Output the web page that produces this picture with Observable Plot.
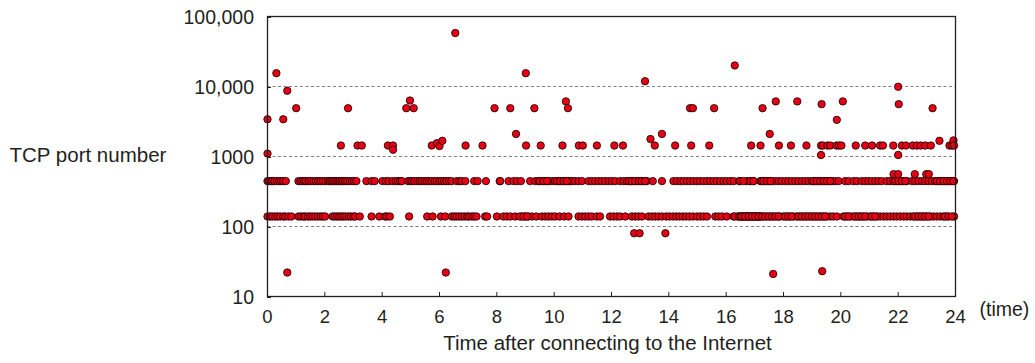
<!DOCTYPE html>
<html><head><meta charset="utf-8">
<script src="https://cdn.jsdelivr.net/npm/d3@7"></script>
<script src="https://cdn.jsdelivr.net/npm/@observablehq/plot@0.6"></script>
<style>
body{margin:0;background:#fff}
svg{font-family:"Liberation Sans",Arial,Helvetica,sans-serif}
</style>
</head><body><div id="chart"></div>
<script>
// Tick values and labels
const xTicks = [0,2,4,6,8,10,12,14,16,18,20,22,24];
const xTickLabels = ["0","2","4","6","8","10","12","14","16","18","20","22","24"];
const yTicks = [10,100,1000,10000,100000];
const yTickLabels = ["10","100","1000","10,000","100,000"];
const gridValues = [100,1000,10000];

// Port 445 band (hours)
const hours445 = [
0.0,0.06,0.12,0.17,0.24,0.33,0.41,0.48,0.55,0.64,
1.08,1.15,1.22,1.28,1.34,1.43,1.51,1.60,1.69,1.77,1.85,1.94,2.03,2.12,2.17,2.23,2.29,2.35,2.41,2.47,2.52,2.58,2.64,2.71,2.78,2.87,2.95,3.02,3.10,
3.45,3.63,3.74,
4.01,4.13,4.22,4.36,4.47,4.55,4.63,4.69,
4.90,4.98,5.04,5.12,5.22,5.31,5.38,5.47,5.56,5.64,5.73,5.83,5.91,6.0,6.08,6.16,6.24,6.33,6.42,
6.60,6.69,6.77,6.90,7.21,7.33,7.62,8.10,
8.12,8.41,8.58,8.70,8.84,9.16,9.34,9.45,9.57,9.69,9.80,9.92,10.03,10.15,10.27,10.38,10.50,10.56,10.62,10.73,10.85,10.97,
11.20,11.31,11.43,11.55,11.66,11.78,11.90,12.01,12.13,12.30,12.42,12.53,12.65,12.77,12.88,13.0,13.12,13.23,13.44,13.76,
14.16,14.28,14.40,14.51,14.63,14.74,14.86,14.98,15.09,15.21,15.33,15.44,15.56,15.67,15.79,15.91,16.02,16.14,16.26,16.45,16.72,16.84,16.95,17.19,
9.5,9.62,9.75,10.1,10.2,10.33,10.44,12.6,12.7,12.82,12.95,13.05,13.17,
16.49,16.60,16.84,16.95,17.24,17.36,17.48,17.59,17.71,17.83,17.94,18.06,18.17,18.29,18.41,18.52,18.64,18.76,18.87,18.99,19.10,19.22,19.34,19.45,19.57,19.69,19.80,19.92,
20.15,20.27,20.44,20.56,20.73,20.85,20.96,21.08,21.20,21.31,21.43,21.60,21.72,21.84,21.95,22.07,22.19,22.30,22.48,22.59,22.71,22.83,22.94,23.06,23.17,23.29,23.41,23.52,23.64,23.76,23.87,23.95,
17.3,17.42,17.54,19.05,19.16,19.28,19.4,19.51,19.63,21.9,22.01,22.13,22.25,23.35,23.46,23.58,23.7,23.81,23.92
];

// Port 139 band (hours)
const hours139 = [
0,0.09,0.17,0.27,0.35,0.44,0.55,0.62,0.73,0.83,1.08,1.17,1.26,1.31,1.41,1.49,1.57,1.66,1.76,1.85,1.93,2.01,
2.27,2.34,2.42,2.5,2.57,2.65,2.73,2.83,2.91,3.0,3.06,3.22,3.63,3.9,4.1,4.17,4.27,4.94,5.57,5.76,6.05,6.2,
6.43,6.52,6.6,6.69,6.78,6.87,6.97,7.03,7.13,7.21,7.29,7.59,7.66,8.0,
8.23,8.35,8.47,8.64,8.87,8.99,9.10,9.22,9.37,9.57,9.69,9.8,9.92,10.03,10.19,10.35,10.5,10.85,10.97,11.08,11.2,11.31,11.49,11.6,
11.95,12.07,12.19,12.3,12.48,12.71,12.83,12.94,13.06,13.29,13.41,13.52,13.64,13.76,13.91,14.02,14.14,14.26,14.37,14.49,14.6,14.72,14.84,14.98,15.09,15.21,15.33,
15.62,15.73,15.85,16.02,16.26,16.4,16.51,16.63,16.74,16.86,16.98,17.09,17.19,
8.8,8.93,9.05,16.3,16.45,16.58,16.7,16.8,16.92,17.03,17.14,
16.49,16.6,16.72,16.84,16.95,17.07,17.19,17.3,17.42,17.53,17.65,17.77,17.88,18.0,18.12,18.23,18.35,18.46,18.58,18.7,18.81,18.93,19.05,19.16,19.28,19.4,19.51,19.63,19.74,19.86,
20.09,20.21,20.33,20.44,20.56,20.67,20.79,20.91,21.02,21.14,21.26,21.37,21.49,21.6,21.72,21.84,21.95,22.07,22.19,22.3,22.42,22.53,22.65,22.77,22.88,23.0,23.12,23.23,23.35,23.47,23.58,23.7,23.95,
16.55,16.66,16.78,16.9,17.01,17.13,17.25,17.36,17.48,17.6,17.71,17.83,18.06,18.17,18.29,18.52,18.64,18.76,18.87,18.99,19.1,19.22,19.34,19.45,
20.15,20.27,20.5,20.62,20.73,20.85,21.08,21.2,22.59,22.71,22.82,22.94,23.06,23.64,23.76,23.87
];

// Other ports (hours, port numbers)
const otherHours = [0.0,0.0,0.31,0.55,0.69,0.69,1.0,2.56,2.81,3.14,3.29,4.2,4.38,4.38,4.84,4.97,5.1,5.73,5.91,6.0,6.1,6.22,6.55,6.91,7.5,7.92,8.47,8.67,
9.01,9.02,9.31,9.53,10.29,10.41,10.48,10.86,11.0,11.49,12.1,12.4,12.79,12.98,13.17,13.36,13.51,13.76,13.88,14.22,14.74,14.84,14.78,15.41,15.58,16.3,16.87,
17.2,17.27,17.52,17.64,17.73,17.84,18.26,18.48,18.8,19.33,19.31,19.37,19.31,19.35,19.53,19.63,19.85,19.94,20.02,19.86,20.07,20.52,20.85,21.09,21.37,21.47,21.83,
22.0,22.02,22.0,21.84,22.0,22.13,22.27,22.51,22.65,22.78,22.94,23.14,22.58,22.98,23.07,23.2,23.44,23.79,23.88,23.93,23.95];
const otherPorts = [3400,1100,15500,3400,8700,22,4900,1434,4900,1434,1434,1434,1434,1250,4900,6300,4900,1434,1550,1410,1675,22,58000,1434,1434,4900,4900,2100,
15500,1434,4900,1434,1434,6129,4900,1434,1434,1434,1434,1434,80,80,11900,1775,1434,2100,80,1434,4900,4900,1434,1434,4900,20000,1434,
1434,4900,2100,21,6129,1434,1434,6129,1434,5600,1434,1434,1050,23,1434,1434,1434,1434,1434,3340,6129,1434,1434,1434,1434,1434,1434,
9900,5600,1050,560,560,1434,1434,1434,1434,1434,1434,1434,560,560,560,4900,1675,1434,1434,1700,1434];

const data = [
  ...hours139.map(h => ({hour: h, port: 139})),
  ...hours445.map(h => ({hour: h, port: 445})),
  ...otherHours.map((h, i) => ({hour: h, port: otherPorts[i]}))
];

const ink = "#231f20";
const chart = Plot.plot({
  width: 1035, height: 363,
  marginLeft: 267, marginRight: 80, marginTop: 16, marginBottom: 67,
  style: {fontFamily: '"Liberation Sans", Arial, Helvetica, sans-serif', fontSize: "19px", color: ink, background: "white", overflow: "visible"},
  x: {domain: [0, 24]},
  y: {type: "log", domain: [10, 100000]},
  marks: [
    Plot.ruleY(gridValues, {stroke: "#808080", strokeDasharray: "3,2.5", strokeWidth: 1}),
    Plot.dot(data, {x: "hour", y: "port", r: 3.7, fill: "#e50014", stroke: "#1f0303", strokeWidth: 0.85}),
    Plot.frame({stroke: ink, strokeWidth: 1.3}),
    Plot.axisX({ticks: xTicks, tickFormat: d => xTickLabels[xTicks.indexOf(d)], tickSize: -4, tickPadding: 17, fontSize: 18.5, label: null, stroke: ink}),
    Plot.axisY({ticks: yTicks, tickFormat: d => yTickLabels[yTicks.indexOf(d)], tickSize: -4, tickPadding: 17.5, dy: 1, fontSize: 19.5, label: null, stroke: ink}),
    Plot.text(["(time)"], {frameAnchor: "bottom-right", dx: 24, dy: 19, textAnchor: "start", fontSize: 19.5, fill: ink}),
    Plot.text(["TCP port number"], {frameAnchor: "left", dx: -258, dy: -1, textAnchor: "start", fontSize: 20.5, fill: ink}),
    Plot.text(["Time after connecting to the Internet"], {frameAnchor: "bottom", dx: -4, dy: 53, fontSize: 20.5, fill: ink})
  ]
});
document.getElementById("chart").appendChild(chart);
</script>
</body></html>
